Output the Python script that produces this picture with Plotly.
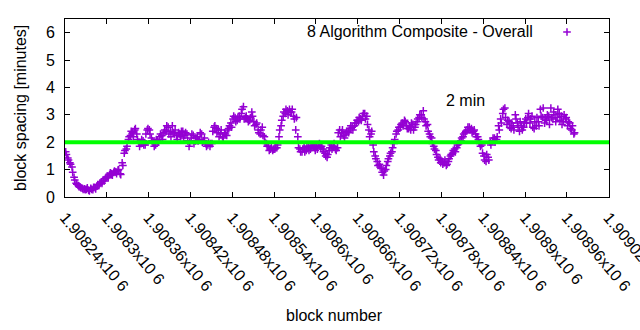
import plotly.graph_objects as go

# ---- data ----
first_block = 1908241
block_step = 3
# points on one side of the scattered band
spacing_minutes = [
    1.65, 1.42, 1.25, 1.10, 0.72, 0.50, 0.42, 0.36, 0.32, 0.30,
    0.28, 0.25, 0.32, 0.27, 0.35, 0.40, 0.45, 0.55, 0.62, 0.68,
    0.75, 0.82, 0.85, 0.90, 0.92, 0.98, 0.85, 1.25, 1.60, 1.75,
    2.10, 2.25, 2.35, 2.45, 2.30, 2.00, 1.95, 2.05, 1.90, 2.45,
    2.45, 2.15, 2.00, 1.90, 2.05, 2.20, 2.25, 2.35, 2.40, 2.55,
    2.40, 2.60, 2.30, 2.25, 2.35, 2.20, 2.40, 2.25, 2.30, 1.85,
    2.15, 2.25, 2.05, 2.20, 2.10, 2.30, 2.05, 1.95, 1.90, 1.85,
    1.95, 2.55, 2.50, 2.45, 2.30, 2.20, 2.35, 2.25, 2.50, 2.70,
    2.85, 2.90, 2.80, 2.95, 3.05, 3.30, 2.90, 2.85, 2.80, 3.10,
    2.75, 2.65, 2.45, 2.30, 2.55, 2.20, 1.95, 1.85, 1.75, 1.70,
    1.75, 1.80, 2.20, 2.60, 2.95, 3.05, 3.15, 3.20, 3.10, 2.95,
    2.45, 2.20, 1.75, 1.65, 1.80, 1.70, 1.85, 1.75, 1.90, 1.80,
    1.85, 1.90, 1.80, 1.75, 1.60, 1.45, 1.70, 1.90, 1.85, 1.75,
    1.80, 2.45, 2.35, 2.25, 2.30, 2.40, 2.50, 2.55, 2.60, 2.70,
    2.75, 2.85, 2.95, 3.05, 2.95, 2.45, 2.30, 1.90, 1.50, 1.30,
    1.20, 1.05, 0.80, 1.00, 1.30, 1.50, 1.65, 1.95, 2.30, 2.45,
    2.55, 2.70, 2.80, 2.60, 2.50, 2.45, 2.65, 2.55, 2.75, 2.90,
    3.00, 3.15, 2.75, 2.65, 2.30, 2.15, 1.85, 1.70, 1.45, 1.40,
    1.30, 1.25, 1.15, 1.30, 1.50, 1.60, 1.75, 1.80, 1.95, 2.05,
    2.20, 2.35, 2.45, 2.55, 2.50, 2.40, 2.30, 2.20, 1.95, 1.90,
    1.50, 1.30, 1.45, 2.00, 2.05, 2.15, 2.10, 2.60, 2.85, 3.05,
    3.25, 2.65, 2.75, 2.50, 2.60, 3.00, 2.70, 2.40, 2.60, 2.55,
    2.85, 2.90, 2.70, 2.95, 2.50, 2.60, 2.75, 3.20, 2.90, 2.70,
    2.80, 2.95, 3.25, 2.85, 3.00, 2.90, 3.05, 2.95, 2.75, 2.85,
    2.60, 2.70, 2.45, 2.30,
]
# the in-between blocks (other side of the scattered band)
spacing_minutes_between = [
    1.55, 1.35, 1.20, 0.90, 0.62, 0.47, 0.38, 0.33, 0.28, 0.27,
    0.33, 0.22, 0.28, 0.35, 0.30, 0.45, 0.50, 0.50, 0.58, 0.72,
    0.70, 0.88, 0.80, 0.95, 0.85, 1.00, 0.82, 1.15, 1.70, 1.85,
    2.20, 2.40, 2.20, 2.50, 2.10, 1.85, 2.10, 1.90, 2.30, 2.50,
    2.30, 2.05, 1.85, 2.10, 2.00, 2.30, 2.10, 2.45, 2.60, 2.30,
    2.20, 2.35, 2.45, 2.10, 2.30, 2.40, 2.15, 2.35, 2.05, 2.00,
    2.30, 1.95, 2.15, 2.05, 2.35, 2.00, 2.15, 1.85, 2.00, 1.95,
    2.40, 2.60, 2.35, 2.20, 2.45, 2.15, 2.30, 2.45, 2.60, 2.55,
    2.95, 2.75, 2.90, 2.85, 3.20, 2.85, 2.95, 2.75, 2.90, 2.95,
    2.60, 2.70, 2.35, 2.45, 2.25, 2.00, 1.85, 1.70, 1.80, 1.75,
    1.80, 1.90, 2.45, 2.80, 3.10, 3.20, 3.00, 3.10, 3.20, 2.85,
    2.90, 1.80, 1.65, 1.75, 1.65, 1.85, 1.70, 1.80, 1.85, 1.70,
    1.75, 1.95, 1.85, 1.65, 1.50, 1.55, 1.80, 1.75, 1.95, 1.70,
    2.35, 2.20, 2.45, 2.15, 2.40, 2.35, 2.60, 2.45, 2.70, 2.80,
    2.90, 2.80, 3.05, 2.85, 2.65, 2.20, 2.40, 1.65, 1.40, 1.15,
    1.10, 0.90, 0.95, 1.15, 1.40, 1.60, 1.80, 2.10, 2.40, 2.55,
    2.65, 2.60, 2.75, 2.50, 2.60, 2.70, 2.45, 2.65, 2.85, 3.00,
    2.90, 2.85, 2.60, 2.40, 2.20, 1.95, 1.75, 1.55, 1.35, 1.25,
    1.20, 1.35, 1.20, 1.40, 1.55, 1.70, 1.65, 1.90, 2.00, 2.15,
    2.30, 2.40, 2.55, 2.45, 2.35, 2.45, 2.20, 2.10, 1.85, 1.60,
    1.35, 1.55, 1.35, 1.90, 2.15, 2.00, 2.20, 2.45, 2.70, 3.20,
    2.90, 2.80, 2.55, 2.70, 2.45, 2.85, 2.55, 2.75, 2.45, 2.70,
    2.70, 3.05, 2.85, 2.55, 2.75, 2.90, 2.60, 2.95, 3.25, 2.85,
    3.00, 2.65, 2.90, 3.10, 2.75, 3.20, 2.80, 2.65, 3.00, 2.90,
    2.75, 2.50, 2.60, 2.35,
]
block_numbers = [first_block + block_step * i for i in range(len(spacing_minutes))]
block_numbers_between = [first_block + 1 + block_step * i
                         for i in range(len(spacing_minutes_between))]

target_minutes = 2
x_tick_values = [1908240 + 60 * k for k in range(14)]
x_tick_labels = [
    "1.90824x10 6", "1.9083x10 6", "1.90836x10 6", "1.90842x10 6",
    "1.90848x10 6", "1.90854x10 6", "1.9086x10 6", "1.90866x10 6",
    "1.90872x10 6", "1.90878x10 6", "1.90884x10 6", "1.9089x10 6",
    "1.90896x10 6", "1.90902x10 6",
]
y_tick_values = [0, 1, 2, 3, 4, 5, 6]
series_name = "8 Algorithm Composite - Overall"
target_label = "2 min"

PURPLE = "#9400D3"
GREEN = "#00FF00"
FONT = "Liberation Sans"

fig = go.Figure()
fig.add_trace(go.Scatter(
    x=block_numbers + block_numbers_between,
    y=spacing_minutes + spacing_minutes_between, mode="markers",
    marker=dict(symbol="cross-thin", size=5.5, color=PURPLE,
                line=dict(color=PURPLE, width=1.5)),
    name=series_name, showlegend=False,
))

# 2-minute target line (on top of the points)
fig.add_shape(type="line", xref="paper", x0=0, x1=1, yref="y",
              y0=target_minutes, y1=target_minutes,
              line=dict(color=GREEN, width=4), layer="above")

# legend-like key: text then sample on the right (gnuplot style)
fig.add_annotation(xref="paper", yref="paper", x=0.8640, y=0.927,
                   text=series_name, showarrow=False, xanchor="right",
                   yanchor="middle", font=dict(family=FONT, size=16, color="black"))
kx, ky, hx, hy = 0.9228, 0.927, 0.0070, 0.0214
fig.add_shape(type="line", xref="paper", yref="paper", x0=kx - hx, x1=kx + hx,
              y0=ky, y1=ky, line=dict(color=PURPLE, width=1.5))
fig.add_shape(type="line", xref="paper", yref="paper", x0=kx, x1=kx,
              y0=ky - hy, y1=ky + hy, line=dict(color=PURPLE, width=1.5))

fig.add_annotation(x=1908815, y=3.53, text=target_label, showarrow=False,
                   xanchor="center", yanchor="middle",
                   font=dict(family=FONT, size=16, color="black"))

# axis titles
fig.add_annotation(xref="paper", yref="paper", x=0.4945, y=-0.663,
                   text="block number", showarrow=False, xanchor="center",
                   yanchor="middle", font=dict(family=FONT, size=16, color="black"))
fig.add_annotation(xref="paper", yref="paper", x=-0.0827, y=0.5,
                   text="block spacing [minutes]", showarrow=False, textangle=-90,
                   xanchor="center", yanchor="middle",
                   font=dict(family=FONT, size=16, color="black"))

axis_common = dict(showline=True, linecolor="black", linewidth=1, mirror="ticks",
                   ticks="inside", ticklen=5, tickwidth=1, tickcolor="black",
                   showgrid=False, zeroline=False,
                   tickfont=dict(family=FONT, size=16, color="black"))

fig.update_xaxes(range=[1908240, 1909020.4], tickmode="array",
                 tickvals=x_tick_values, ticktext=x_tick_labels,
                 tickangle=50, ticklabelstandoff=4, ticklabeloverflow="allow",
                 **axis_common)
fig.update_yaxes(range=[0, 6.5], tickmode="array", tickvals=y_tick_values,
                 ticklabelstandoff=6, **axis_common)

fig.update_layout(
    width=640, height=330,
    margin=dict(l=65, r=31, t=19, b=133, autoexpand=False),
    plot_bgcolor="white", paper_bgcolor="white",
    font=dict(family=FONT, size=16, color="black"),
    showlegend=False,
)

fig.write_html("out.html")
